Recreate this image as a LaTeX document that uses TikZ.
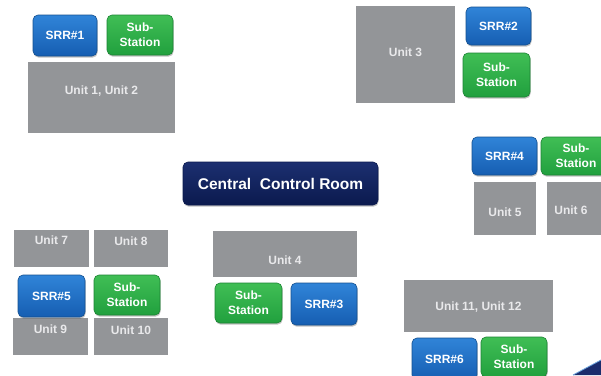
\documentclass[tikz,border=0pt]{standalone}
\usepackage{fontspec}
\setmainfont{Liberation Sans}
\usetikzlibrary{shadows}
\definecolor{unitgray}{HTML}{939598}
\definecolor{unittext}{HTML}{E9E9EB}
\definecolor{srrtop}{HTML}{3084D8}
\definecolor{srrbot}{HTML}{165EB2}
\definecolor{srredge}{HTML}{14508F}
\definecolor{subtop}{HTML}{40BE55}
\definecolor{subbot}{HTML}{21A03E}
\definecolor{subedge}{HTML}{1C8334}
\definecolor{navytop}{HTML}{1C2F70}
\definecolor{navybot}{HTML}{0B1A4E}
\definecolor{swoosh}{HTML}{1B2C6C}
\definecolor{swooshedge}{HTML}{6FA6DE}
\tikzset{
  unitbox/.style={fill=unitgray, draw=none, inner sep=0pt},
  unitlabel/.style={text=unittext, font=\bfseries\fontsize{12}{14}\selectfont, inner sep=0pt},
  btn/.style={rounded corners=5pt, inner sep=0pt, align=center, text=white,
    font=\bfseries\fontsize{12}{15}\selectfont,
    drop shadow={shadow xshift=0.6pt, shadow yshift=-1.6pt, opacity=0.35, fill=black!70}},
  srr/.style={btn, draw=srredge, line width=0.6pt, top color=srrtop, bottom color=srrbot},
  subst/.style={btn, draw=subedge, line width=0.6pt, top color=subtop, bottom color=subbot},
  ccr/.style={btn, draw=navybot, line width=0.6pt, top color=navytop, bottom color=navybot,
    font=\bfseries\fontsize{15.5}{18}\selectfont}
}
\begin{document}
\begin{tikzpicture}[x=1pt, y=-1pt]
  \useasboundingbox[fill=white] (0,0) rectangle (601,375);

  % plant units (grey blocks)
  \node[unitbox, minimum width=147pt, minimum height=71pt] (u12) at (101.5,97.5) {};
  \node[unitlabel] (u12t) at (101.5,91) {Unit 1, Unit 2};
  \node[unitbox, minimum width=99pt, minimum height=97pt] (u3) at (405.5,54.5) {};
  \node[unitlabel] (u3t) at (405.5,52) {Unit 3};
  \node[unitbox, minimum width=62pt, minimum height=53pt] (u5) at (505,208.5) {};
  \node[unitlabel] (u5t) at (505,212) {Unit 5};
  \node[unitbox, minimum width=56pt, minimum height=53pt] (u6) at (575,208.5) {};
  \node[unitlabel] (u6t) at (571,210) {Unit 6};
  \node[unitbox, minimum width=75pt, minimum height=37pt] (u7) at (51.5,248.5) {};
  \node[unitlabel] (u7t) at (51.5,240.5) {Unit 7};
  \node[unitbox, minimum width=74pt, minimum height=37pt] (u8) at (131,248.5) {};
  \node[unitlabel] (u8t) at (131,241) {Unit 8};
  \node[unitbox, minimum width=75pt, minimum height=37pt] (u9) at (50.5,336.5) {};
  \node[unitlabel] (u9t) at (50.5,329) {Unit 9};
  \node[unitbox, minimum width=74pt, minimum height=37pt] (u10) at (131,336.5) {};
  \node[unitlabel] (u10t) at (131,330) {Unit 10};
  \node[unitbox, minimum width=144pt, minimum height=46pt] (u4) at (285,254) {};
  \node[unitlabel] (u4t) at (285,260) {Unit 4};
  \node[unitbox, minimum width=149pt, minimum height=52pt] (u1112) at (478.5,306) {};
  \node[unitlabel] (u1112t) at (478.5,307) {Unit 11, Unit 12};

  % SRR buttons
  \node[srr, minimum width=64pt, minimum height=41pt] (srr1) at (65,35.5) {SRR\#1};
  \node[srr, minimum width=65pt, minimum height=38pt] (srr2) at (498.5,26) {SRR\#2};
  \node[srr, minimum width=66pt, minimum height=42pt] (srr3) at (324,304) {SRR\#3};
  \node[srr, minimum width=65pt, minimum height=38pt] (srr4) at (504.5,156) {SRR\#4};
  \node[srr, minimum width=67pt, minimum height=42pt] (srr5) at (51.5,296) {SRR\#5};
  \node[srr, minimum width=65pt, minimum height=42pt] (srr6) at (444.5,359) {SRR\#6};

  % sub-station buttons
  \node[subst, minimum width=66pt, minimum height=40pt] (sub1) at (140,35) {Sub-\\Station};
  \node[subst, minimum width=67pt, minimum height=44pt] (sub2) at (496.5,75) {Sub-\\Station};
  \node[subst, minimum width=67pt, minimum height=40pt] (sub3) at (248.5,303) {Sub-\\Station};
  \node[subst, minimum width=70pt, minimum height=38pt] (sub4) at (576,156) {Sub-\\Station};
  \node[subst, minimum width=66pt, minimum height=40pt] (sub5) at (127,295) {Sub-\\Station};
  \node[subst, minimum width=66pt, minimum height=40pt] (sub6) at (514,357) {Sub-\\Station};

  % central control room
  \node[ccr, minimum width=195pt, minimum height=43pt] (ccr) at (280.5,183.5) {Central~~Control Room};

  % corner swoosh
  \fill[swoosh] (573,375) .. controls (586,368) .. (601,360) -- (601,375) -- cycle;
  \draw[swooshedge, line width=0.8pt] (573,375) .. controls (586,368) .. (601,360);
\end{tikzpicture}
\end{document}
